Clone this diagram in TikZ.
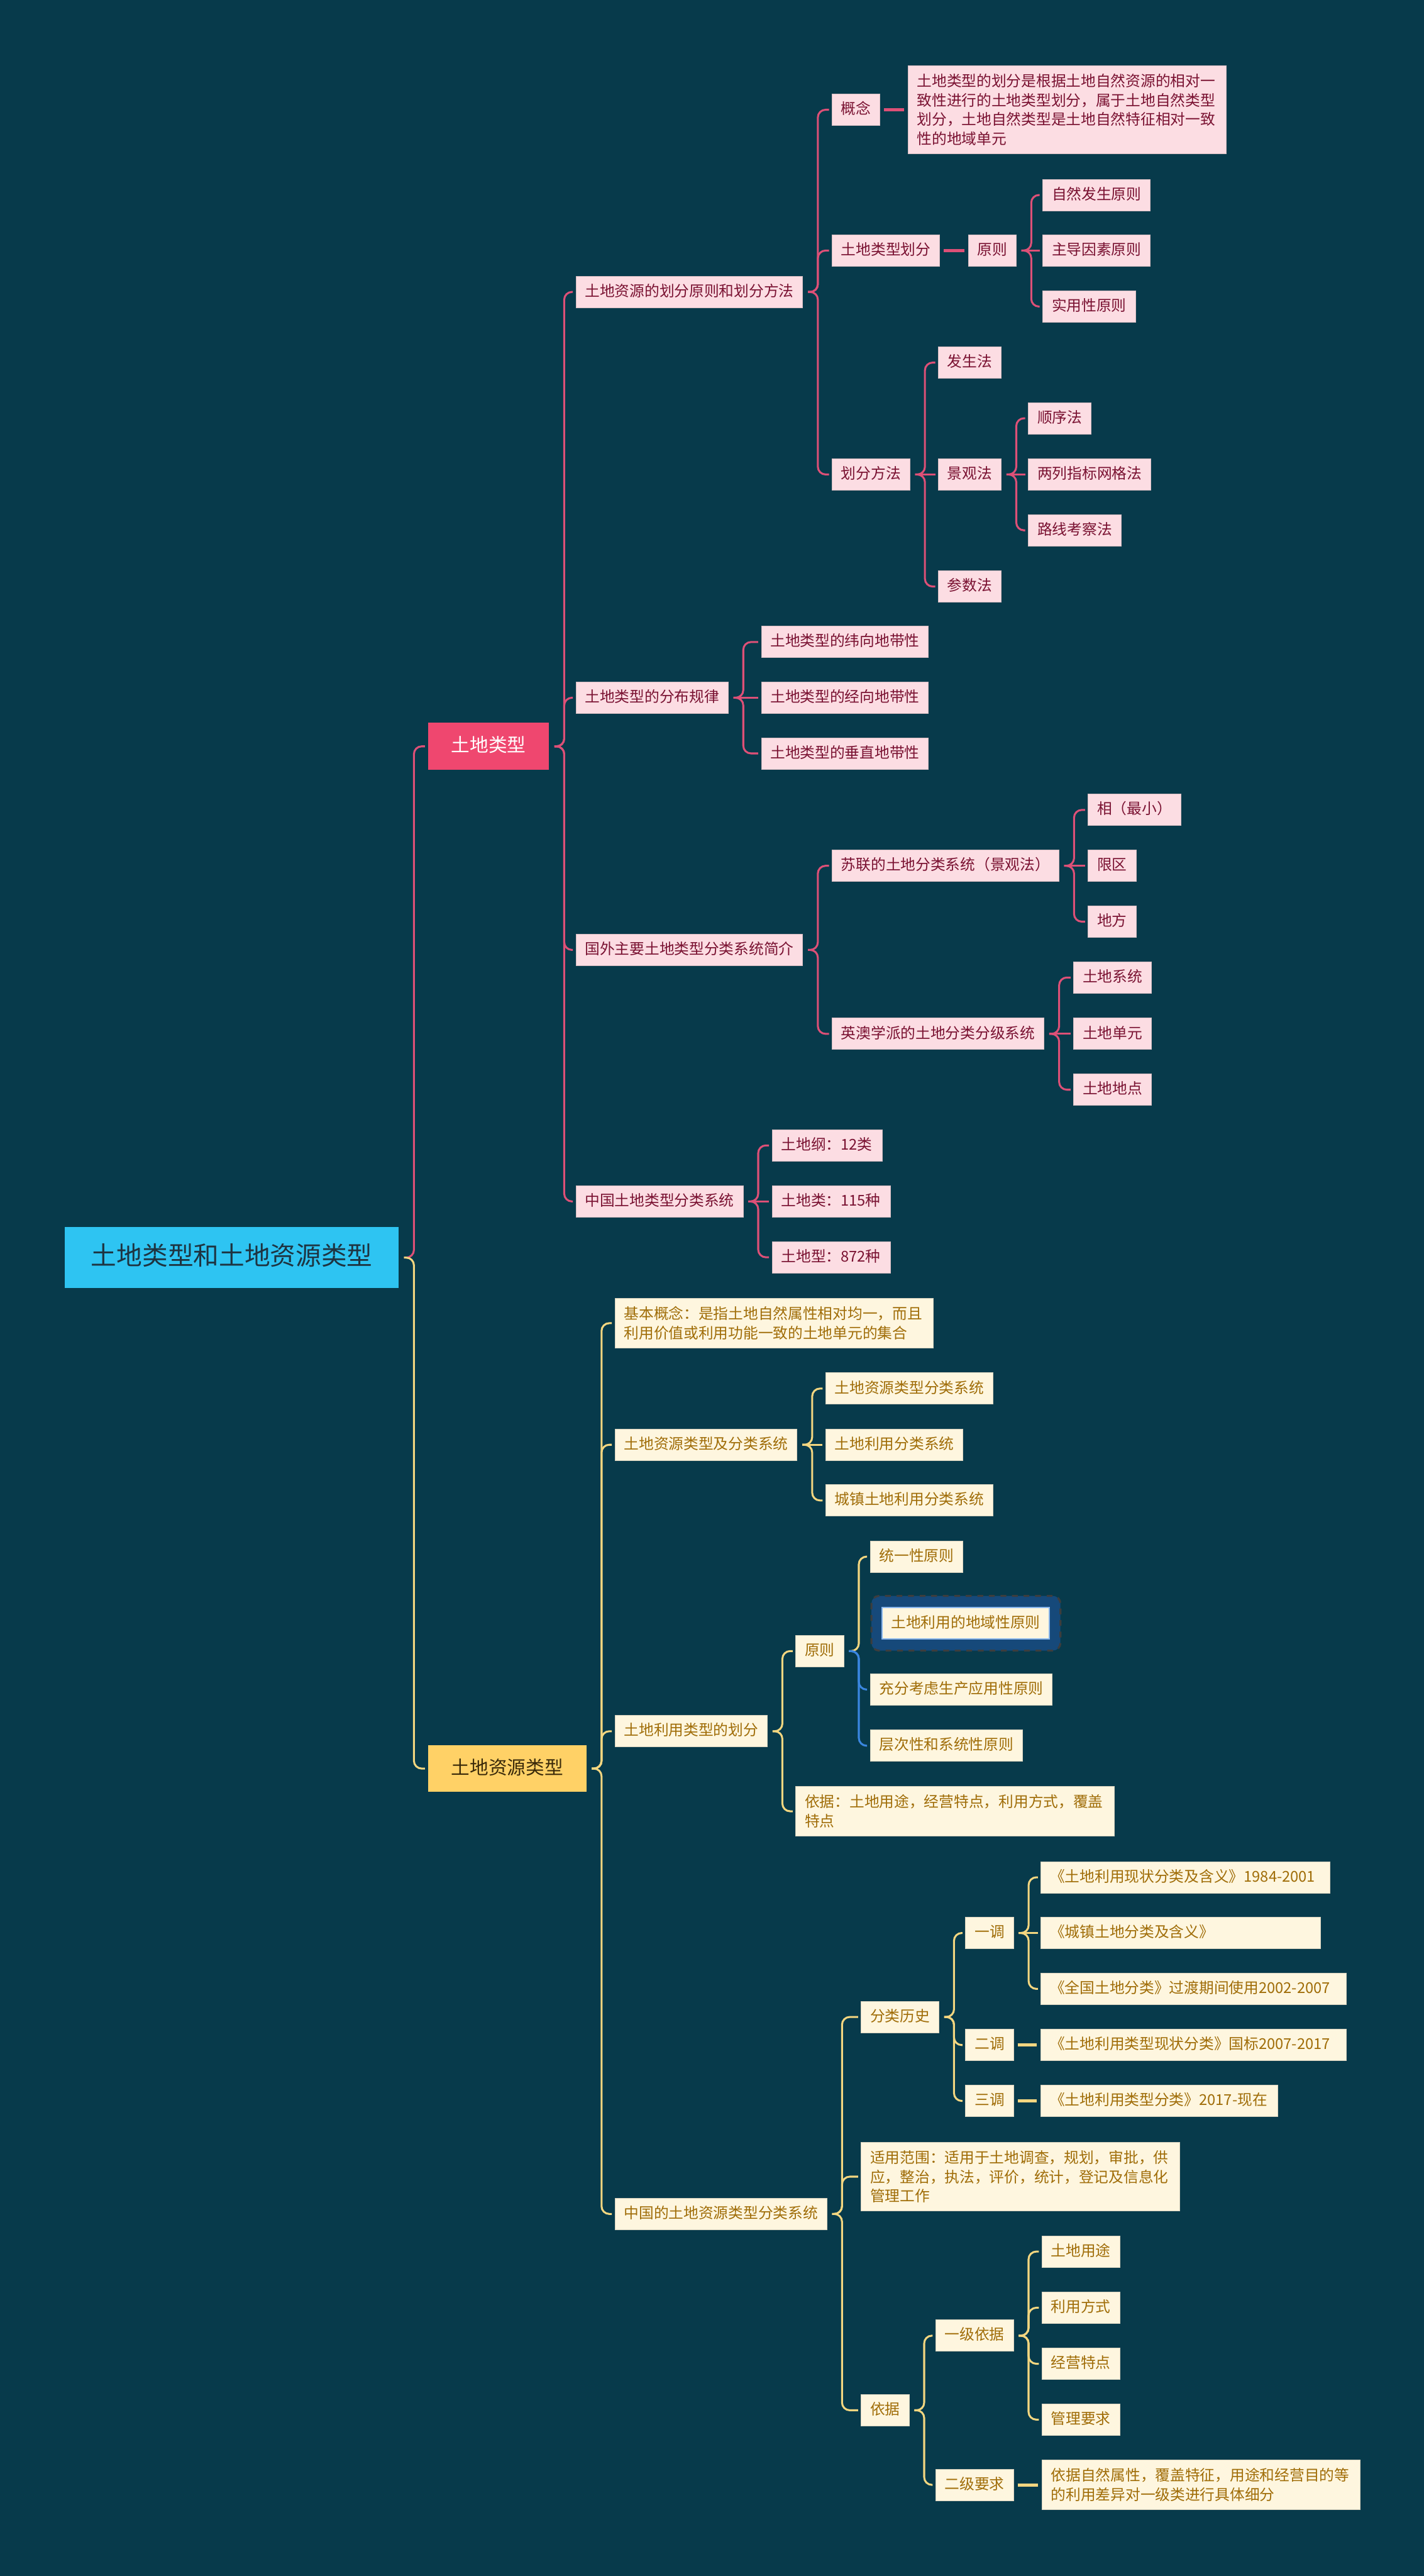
\documentclass[tikz,border=0pt]{standalone}
\usepackage{fontspec}
\setmainfont{Noto Sans CJK SC}

\definecolor{bg}{HTML}{073A4B}
\definecolor{rootfill}{HTML}{2EC4F2}
\definecolor{roottext}{HTML}{1E3441}
\definecolor{redfill}{HTML}{EF476F}
\definecolor{goldfill}{HTML}{FFD166}
\definecolor{goldtext}{HTML}{3A2A0A}
\definecolor{pkfill}{HTML}{FCDDE3}
\definecolor{pktext}{HTML}{7A1232}
\definecolor{pkline}{HTML}{DD5077}
\definecolor{ylfill}{HTML}{FEF6DF}
\definecolor{yltext}{HTML}{A06D08}
\definecolor{ylline}{HTML}{F3D680}
\definecolor{blueline}{HTML}{3A86E0}
\definecolor{hlfill}{HTML}{16497A}
\definecolor{hledge}{HTML}{3D3D3D}

\begin{document}
\begin{tikzpicture}[x=0.03cm,y=0.03cm,
  every node/.style={anchor=west,inner sep=0pt},
  rootbox/.style={fill=rootfill,text=roottext,font=\fontsize{13.3}{16}\selectfont,
    text height=10.64pt,text depth=2.66pt,inner xsep=13.6pt,inner ysep=9.1pt},
  topbox/.style={font=\fontsize{9.7}{12}\selectfont,text height=7.76pt,text depth=1.94pt,
    inner xsep=12pt,inner ysep=7.35pt},
  leaf/.style={font=\fontsize{7.75}{10}\selectfont,text height=6.2pt,text depth=1.55pt,
    inner xsep=4.7pt,inner ysep=4.3pt,line width=0.3pt},
  pkbox/.style={leaf,fill=pkfill,draw=pkfill!85!black,text=pktext},
  ylbox/.style={leaf,fill=ylfill,draw=ylfill!85!black,text=yltext},
  para/.style={text width=156pt,align=left,text height={},text depth={}},
  boxw/.style={text width=#1,align=left},
  pkwire/.style={draw=pkline,line width=1pt,rounded corners=4pt,shorten >=1.5pt},
  ylwire/.style={draw=ylline,line width=1pt,rounded corners=4pt,shorten >=1.5pt},
  bluewire/.style={draw=blueline,line width=1pt,rounded corners=4pt,shorten >=1.5pt},
  pkdash/.style={draw=pkline,line width=1.6pt,shorten <=2pt,shorten >=2pt},
  yldash/.style={draw=ylline,line width=1.6pt,shorten <=2pt,shorten >=2pt}]

\path[use as bounding box,fill=bg] (0,0) rectangle (867,-1568);

% root and first level
\node[rootbox] (root) at (39.3,-765.5) {土地类型和土地资源类型};
\node[topbox,fill=redfill,text=white] (lt) at (260.5,-454.3) {土地类型};
\node[topbox,fill=goldfill,text=goldtext] (lr) at (260.5,-1076.5) {土地资源类型};
\draw[pkwire] (root.east) ++(3,0) -- ++(6,0) |- (lt.west);
\draw[ylwire] (root.east) ++(3,0) -- ++(6,0) |- (lr.west);

% ---- 土地类型 ----
\node[pkbox] (hf) at (350.5,-177.7) {土地资源的划分原则和划分方法};
\node[pkbox] (fb) at (350.5,-424.7) {土地类型的分布规律};
\node[pkbox] (gw) at (350.5,-578.2) {国外主要土地类型分类系统简介};
\node[pkbox] (zg) at (350.5,-731.3) {中国土地类型分类系统};
\foreach \c in {hf,fb,gw,zg}
  \draw[pkwire] (lt.east) ++(3,0) -- ++(6,0) |- (\c.west);

\node[pkbox] (gn) at (506.5,-66.8) {概念};
\node[pkbox,para] (gntx) at (552.7,-66.8) {土地类型的划分是根据土地自然资源的相对一\\致性进行的土地类型划分，属于土地自然类型\\划分，土地自然类型是土地自然特征相对一致\\性的地域单元};
\node[pkbox] (lx) at (506.5,-152.5) {土地类型划分};
\node[pkbox] (yz) at (589.4,-152.5) {原则};
\node[pkbox] (zr) at (634.8,-118.7) {自然发生原则};
\node[pkbox] (zd) at (634.8,-152.5) {主导因素原则};
\node[pkbox] (sy) at (634.8,-186.6) {实用性原则};
\node[pkbox] (ff) at (506.5,-288.8) {划分方法};
\node[pkbox] (fs) at (571.2,-220.7) {发生法};
\node[pkbox] (jg) at (571.2,-288.8) {景观法};
\node[pkbox] (cs) at (571.2,-357) {参数法};
\node[pkbox] (sx) at (626,-254.6) {顺序法};
\node[pkbox] (lg) at (626,-288.8) {两列指标网格法};
\node[pkbox] (lk) at (626,-322.8) {路线考察法};
\foreach \c in {gn,lx,ff}
  \draw[pkwire] (hf.east) ++(3,0) -- ++(6,0) |- (\c.west);
\draw[pkdash] (gn.east) -- (gntx.west);
\draw[pkdash] (lx.east) -- (yz.west);
\foreach \c in {zr,sy}
  \draw[pkwire] (yz.east) ++(3,0) -- ++(6,0) |- (\c.west);
\draw[pkwire] (yz.east) ++(3,0) -- (zd.west);
\foreach \c in {fs,cs}
  \draw[pkwire] (ff.east) ++(3,0) -- ++(6,0) |- (\c.west);
\draw[pkwire] (ff.east) ++(3,0) -- (jg.west);
\foreach \c in {sx,lk}
  \draw[pkwire] (jg.east) ++(3,0) -- ++(6,0) |- (\c.west);
\draw[pkwire] (jg.east) ++(3,0) -- (lg.west);

\node[pkbox] (wx) at (463.4,-390.8) {土地类型的纬向地带性};
\node[pkbox] (jx) at (463.4,-424.7) {土地类型的经向地带性};
\node[pkbox] (cz) at (463.4,-458.6) {土地类型的垂直地带性};
\foreach \c in {wx,cz}
  \draw[pkwire] (fb.east) ++(3,0) -- ++(6,0) |- (\c.west);
\draw[pkwire] (fb.east) ++(3,0) -- (jx.west);

\node[pkbox] (sl) at (506.5,-527) {苏联的土地分类系统（景观法）};
\node[pkbox] (xg) at (662.4,-493) {相（最小）};
\node[pkbox] (xq) at (662.4,-527) {限区};
\node[pkbox] (df) at (662.4,-561) {地方};
\node[pkbox] (yo) at (506.5,-629.3) {英澳学派的土地分类分级系统};
\node[pkbox] (ts) at (653.6,-595) {土地系统};
\node[pkbox] (td) at (653.6,-629.3) {土地单元};
\node[pkbox] (tp) at (653.6,-663.3) {土地地点};
\foreach \c in {sl,yo}
  \draw[pkwire] (gw.east) ++(3,0) -- ++(6,0) |- (\c.west);
\foreach \c in {xg,df}
  \draw[pkwire] (sl.east) ++(3,0) -- ++(6,0) |- (\c.west);
\draw[pkwire] (sl.east) ++(3,0) -- (xq.west);
\foreach \c in {ts,tp}
  \draw[pkwire] (yo.east) ++(3,0) -- ++(6,0) |- (\c.west);
\draw[pkwire] (yo.east) ++(3,0) -- (td.west);

\node[pkbox,boxw=1.68cm] (tg) at (470,-697.2) {土地纲：12类};
\node[pkbox,boxw=1.83cm] (tl) at (470,-731.3) {土地类：115种};
\node[pkbox,boxw=1.83cm] (tx) at (470,-765.3) {土地型：872种};
\foreach \c in {tg,tx}
  \draw[pkwire] (zg.east) ++(3,0) -- ++(6,0) |- (\c.west);
\draw[pkwire] (zg.east) ++(3,0) -- (tl.west);

% ---- 土地资源类型 ----
\node[ylbox,para] (jb) at (374.3,-805.4) {基本概念：是指土地自然属性相对均一，而且\\利用价值或利用功能一致的土地单元的集合};
\node[ylbox] (fl) at (374.3,-879.4) {土地资源类型及分类系统};
\node[ylbox] (hy) at (374.3,-1053.8) {土地利用类型的划分};
\node[ylbox] (zgs) at (374.3,-1347.6) {中国的土地资源类型分类系统};
\foreach \c in {jb,fl,hy,zgs}
  \draw[ylwire] (lr.east) ++(3,0) -- ++(6,0) |- (\c.west);

\node[ylbox] (z1) at (502.6,-845.2) {土地资源类型分类系统};
\node[ylbox] (z2) at (502.6,-879.4) {土地利用分类系统};
\node[ylbox] (z3) at (502.6,-913.3) {城镇土地利用分类系统};
\foreach \c in {z1,z3}
  \draw[ylwire] (fl.east) ++(3,0) -- ++(6,0) |- (\c.west);
\draw[ylwire] (fl.east) ++(3,0) -- (z2.west);

\node[ylbox] (yr) at (484.4,-1005) {原则};
\node[ylbox,para] (yj) at (484.4,-1102.5) {依据：土地用途，经营特点，利用方式，覆盖\\特点};
\foreach \c in {yr,yj}
  \draw[ylwire] (hy.east) ++(3,0) -- ++(6,0) |- (\c.west);
\node[ylbox] (ty) at (529.7,-947.5) {统一性原则};
\fill[hlfill,draw=hledge,dashed,line width=1pt,rounded corners=4pt]
  (530.6,-971.4) rectangle (645.7,-1004.7);
\node[ylbox,draw=blueline!60!white,line width=0.5pt] (dy) at (536.8,-988) {土地利用的地域性原则};
\node[ylbox] (cf) at (529.7,-1028.4) {充分考虑生产应用性原则};
\node[ylbox] (cc) at (529.7,-1062.6) {层次性和系统性原则};
\draw[ylwire] (yr.east) ++(3,0) -- ++(6,0) |- (ty.west);
\foreach \c in {cf,cc}
  \draw[bluewire] (yr.east) ++(3,0) -- ++(6,0) |- (\c.west);

\node[ylbox] (ls) at (524.2,-1227.7) {分类历史};
\node[ylbox,para] (fw) at (524.2,-1324.9) {适用范围：适用于土地调查，规划，审批，供\\应，整治，执法，评价，统计，登记及信息化\\管理工作};
\node[ylbox] (yjj) at (524.2,-1467.1) {依据};
\foreach \c in {ls,fw,yjj}
  \draw[ylwire] (zgs.east) ++(3,0) -- ++(6,0) |- (\c.west);

\node[ylbox] (d1) at (587.8,-1176.6) {一调};
\node[ylbox] (d2) at (587.8,-1244.8) {二调};
\node[ylbox] (d3) at (587.8,-1278.8) {三调};
\foreach \c in {d1,d2,d3}
  \draw[ylwire] (ls.east) ++(3,0) -- ++(6,0) |- (\c.west);
\node[ylbox,boxw=4.95cm] (b1) at (633.7,-1142.7) {《土地利用现状分类及含义》1984-2001};
\node[ylbox,boxw=4.77cm] (b2) at (633.7,-1176.6) {《城镇土地分类及含义》};
\node[ylbox,boxw=5.25cm] (b3) at (633.7,-1210.6) {《全国土地分类》过渡期间使用2002-2007};
\node[ylbox,boxw=5.25cm] (b4) at (633.7,-1244.8) {《土地利用类型现状分类》国标2007-2017};
\node[ylbox,boxw=3.99cm] (b5) at (633.7,-1278.8) {《土地利用类型分类》2017-现在};
\foreach \c in {b1,b3}
  \draw[ylwire] (d1.east) ++(3,0) -- ++(6,0) |- (\c.west);
\draw[ylwire] (d1.east) ++(3,0) -- (b2.west);
\draw[yldash] (d2.east) -- (b4.west);
\draw[yldash] (d3.east) -- (b5.west);

\node[ylbox] (j1) at (569.6,-1421.7) {一级依据};
\node[ylbox] (j2) at (569.6,-1512.5) {二级要求};
\foreach \c in {j1,j2}
  \draw[ylwire] (yjj.east) ++(3,0) -- ++(6,0) |- (\c.west);
\node[ylbox] (u1) at (634.3,-1370.5) {土地用途};
\node[ylbox] (u2) at (634.3,-1404.7) {利用方式};
\node[ylbox] (u3) at (634.3,-1438.8) {经营特点};
\node[ylbox] (u4) at (634.3,-1472.8) {管理要求};
\foreach \c in {u1,u2,u3,u4}
  \draw[ylwire] (j1.east) ++(3,0) -- ++(6,0) |- (\c.west);
\node[ylbox,para] (u5) at (634.3,-1512.5) {依据自然属性，覆盖特征，用途和经营目的等\\的利用差异对一级类进行具体细分};
\draw[yldash] (j2.east) -- (u5.west);
\end{tikzpicture}
\end{document}
